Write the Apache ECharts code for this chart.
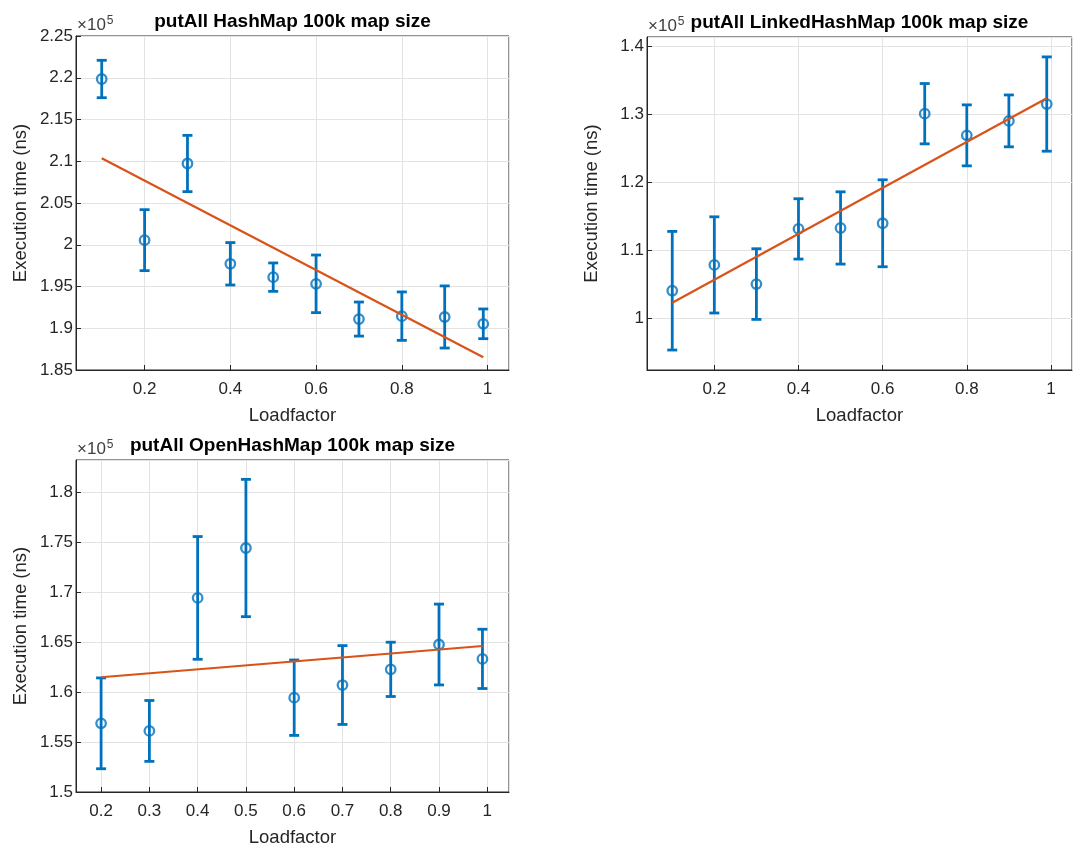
<!DOCTYPE html>
<html>
<head>
<meta charset="utf-8">
<script src="https://cdn.jsdelivr.net/npm/echarts@6/dist/echarts.min.js"></script>
<style>html,body{margin:0;padding:0;background:#fff}#c{width:1074px;height:848px}</style>
</head>
<body>
<div id="c"></div>
<script>
// ---- data (execution time in ns) ----
const titles = ['putAll HashMap 100k map size', 'putAll LinkedHashMap 100k map size', 'putAll OpenHashMap 100k map size'];
const xLabelName = 'Loadfactor';
const yLabelName = 'Execution time (ns)';

const loadHash = [0.1, 0.2, 0.3, 0.4, 0.5, 0.6, 0.7, 0.8, 0.9, 0.99];
const hashMean = [219850, 200550, 209730, 197720, 196120, 195320, 191100, 191450, 191350, 190530];
const hashErr  = [2240, 3650, 3370, 2540, 1700, 3450, 2040, 2900, 3720, 1780];
const hashFitX = [0.1, 0.99];
const hashFitY = [210350, 186520];

const loadLinked = [0.1, 0.2, 0.3, 0.4, 0.5, 0.6, 0.7, 0.8, 0.9, 0.99];
const linkedMean = [104020, 107820, 105000, 113120, 113260, 113950, 130080, 126890, 129020, 131500];
const linkedErr  = [8730, 7080, 5200, 4440, 5320, 6400, 4440, 4490, 3820, 6940];
const linkedFitX = [0.1, 0.99];
const linkedFitY = [102250, 132350];

const loadOpen = [0.2, 0.3, 0.4, 0.5, 0.6, 0.7, 0.8, 0.9, 0.99];
const openMean = [156880, 156120, 169450, 174450, 159450, 160720, 162290, 164780, 163340];
const openErr  = [4550, 3050, 6150, 6880, 3780, 3950, 2720, 4050, 2970];
const openFitX = [0.2, 0.99];
const openFitY = [161500, 164630];

const xRanges = [[0.04, 1.05], [0.04, 1.05], [0.148, 1.045]];
const yRanges = [[185000, 225000], [92350, 141370], [150000, 183270]];
const xSplits = [5, 5, 9];
const ySplits = [8, 5, 7];

// ---- styling ----
const BLUE = '#0072BD', ORANGE = '#D95319', INK = '#262626', GRID = '#e3e3e3';
const FONT = '"Liberation Sans", Arial, Helvetica, sans-serif';
const grids = [
  {left: 76, top: 36, width: 433, height: 334},
  {left: 647, top: 37, width: 425, height: 333},
  {left: 76, top: 460, width: 433, height: 333}
];

const sets = [
  {x: loadHash, m: hashMean, e: hashErr, fx: hashFitX, fy: hashFitY},
  {x: loadLinked, m: linkedMean, e: linkedErr, fx: linkedFitX, fy: linkedFitY},
  {x: loadOpen, m: openMean, e: openErr, fx: openFitX, fy: openFitY}
];

function fmtY(v) { return String(+(v / 1e5).toFixed(4)); }
function fmtX(v) { return String(+v.toFixed(4)); }

function renderErr(params, api) {
  const x = api.value(0), y = api.value(1), e = api.value(2);
  const top = api.coord([x, y + e]);
  const bot = api.coord([x, y - e]);
  const hw = 5;
  const st = {stroke: BLUE, lineWidth: 2.8};
  return {type: 'group', children: [
    {type: 'line', shape: {x1: top[0], y1: top[1], x2: bot[0], y2: bot[1]}, style: st},
    {type: 'line', shape: {x1: top[0] - hw, y1: top[1], x2: top[0] + hw, y2: top[1]}, style: st},
    {type: 'line', shape: {x1: bot[0] - hw, y1: bot[1], x2: bot[0] + hw, y2: bot[1]}, style: st}
  ]};
}

const xAxis = [], yAxis = [], series = [], title = [], graphic = [];
sets.forEach((s, i) => {
  const g = grids[i];
  xAxis.push({
    gridIndex: i, type: 'value', min: xRanges[i][0], max: xRanges[i][1], splitNumber: xSplits[i],
    name: xLabelName, nameLocation: 'middle', nameGap: 36,
    nameTextStyle: {fontFamily: FONT, fontSize: 18.5, color: INK},
    axisLine: {show: true, onZero: false, lineStyle: {color: INK, width: 1}},
    axisTick: {show: true, inside: true, length: 5, lineStyle: {color: INK}},
    axisLabel: {fontFamily: FONT, fontSize: 17, color: INK, margin: 11, showMinLabel: false, showMaxLabel: false, formatter: fmtX},
    splitLine: {show: true, lineStyle: {color: GRID, width: 1}}
  });
  yAxis.push({
    gridIndex: i, type: 'value', min: yRanges[i][0], max: yRanges[i][1], splitNumber: ySplits[i],
    name: yLabelName, nameLocation: 'middle', nameGap: 46,
    nameTextStyle: {fontFamily: FONT, fontSize: 18.5, color: INK},
    axisLine: {show: true, onZero: false, lineStyle: {color: INK, width: 1}},
    axisTick: {show: true, inside: true, length: 5, lineStyle: {color: INK}},
    axisLabel: {fontFamily: FONT, fontSize: 17, color: INK, margin: 3,
      showMinLabel: i === 0 || i === 2, showMaxLabel: i === 0, formatter: fmtY},
    splitLine: {show: true, lineStyle: {color: GRID, width: 1}}
  });
  series.push({
    type: 'custom', xAxisIndex: i, yAxisIndex: i, renderItem: renderErr,
    data: s.x.map((xv, k) => [xv, s.m[k], s.e[k]]), z: 2, silent: true
  });
  series.push({
    type: 'scatter', xAxisIndex: i, yAxisIndex: i, symbol: 'circle', symbolSize: 9.5,
    itemStyle: {color: 'rgba(255,255,255,0)', borderColor: BLUE, borderWidth: 2.3},
    data: s.x.map((xv, k) => [xv, s.m[k]]), z: 3, silent: true
  });
  series.push({
    type: 'line', xAxisIndex: i, yAxisIndex: i, showSymbol: false,
    lineStyle: {color: ORANGE, width: 2.2},
    data: s.fx.map((xv, k) => [xv, s.fy[k]]), z: 4, silent: true
  });
  title.push({
    text: titles[i], left: g.left + g.width / 2, top: g.top - 24, textAlign: 'center', padding: 0,
    textStyle: {fontFamily: FONT, fontSize: 19, fontWeight: 'bold', color: '#000'}
  });
  graphic.push({
    type: 'text', left: g.left + 1, top: g.top - 21,
    style: {
      text: '{a|×10}{b|5}', fill: INK,
      rich: {
        a: {fontFamily: FONT, fontSize: 17, fill: '#404040', verticalAlign: 'bottom', lineHeight: 19},
        b: {fontFamily: FONT, fontSize: 12, fill: '#404040', verticalAlign: 'top', padding: [0, 0, 9, 1], lineHeight: 19}
      }
    }
  });
});

const chart = echarts.init(document.getElementById('c'), null, {renderer: 'canvas'});
chart.setOption({
  backgroundColor: '#fff',
  animation: false,
  title: title,
  grid: grids.map(g => Object.assign({show: true, borderColor: INK, borderWidth: 1, backgroundColor: '#fff'}, g)),
  xAxis: xAxis,
  yAxis: yAxis,
  series: series,
  graphic: graphic
});
</script>
</body>
</html>
